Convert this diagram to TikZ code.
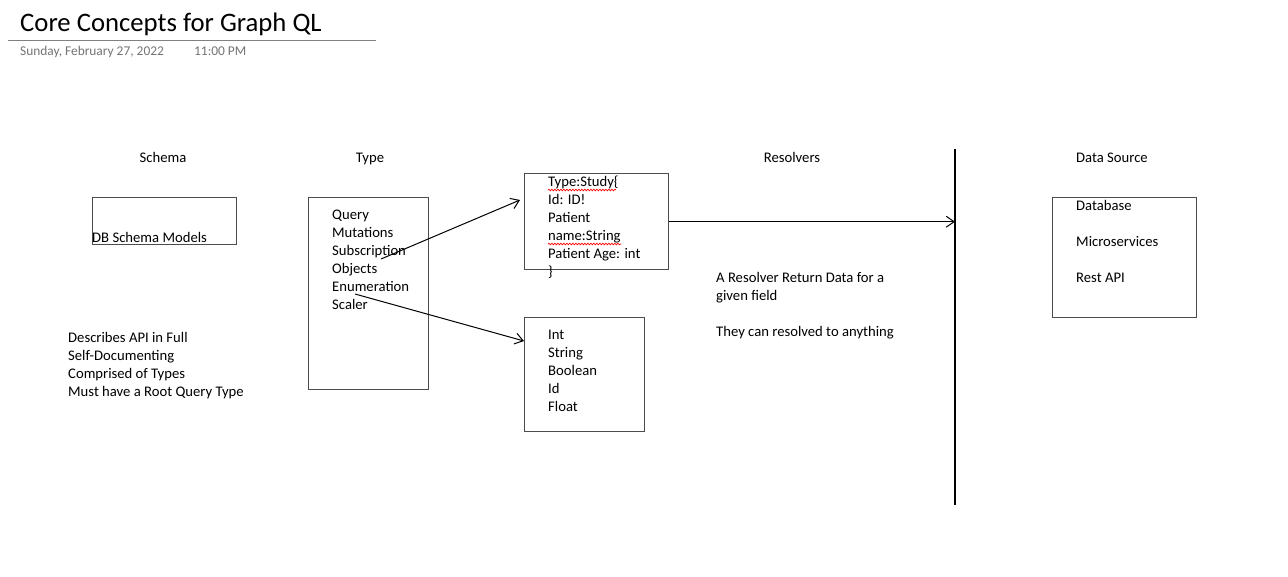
\documentclass[tikz,border=0pt]{standalone}
\usepackage{fontspec}
\setmainfont{Carlito}
\usetikzlibrary{arrows.meta,decorations.pathmorphing}
\tikzset{
  txt/.style={anchor=base west,inner sep=0pt,align=left,font=\fontsize{14.67}{18}\selectfont},
  head/.style={anchor=base,inner sep=0pt,font=\fontsize{14.67}{18}\selectfont},
  box/.style={draw=black!70,line width=1.4pt,anchor=north west,inner sep=0pt},
  link/.style={black,line width=1pt,-{Straight Barb[length=8pt,width=11pt]}},
  spell/.style={red,line width=0.7pt,decorate,decoration={snake,segment length=3pt,amplitude=0.8pt}}
}
\begin{document}
\begin{tikzpicture}[x=1pt,y=-1pt]
  \useasboundingbox (0,0) rectangle (1288,576);
  % page title
  \node [anchor=base west,inner sep=0pt,font=\fontsize{26.7}{30}\selectfont] (title) at (20,31) {Core Concepts for Graph QL};
  \draw [black!50,line width=1pt] (8,40) -- (376,40);
  \node [anchor=base west,inner sep=0pt,text=black!55,font=\fontsize{13.4}{15}\selectfont] (date) at (20,55) {Sunday, February 27, 2022};
  \node [anchor=base west,inner sep=0pt,text=black!55,font=\fontsize{13.4}{15}\selectfont] (time) at (194,55) {11:00 PM};
  % column headings
  \node [head] (hschema) at (163,162) {Schema};
  \node [head] (htype) at (370,162) {Type};
  \node [head] (hres) at (792,162) {Resolvers};
  \node [head] (hsrc) at (1112,162) {Data Source};
  % boxes
  \node [box,minimum width=144pt,minimum height=47pt] (schema) at (92,197) {};
  \node [box,minimum width=120pt,minimum height=192pt] (types) at (308,197) {};
  \node [box,minimum width=144pt,minimum height=96pt] (study) at (524,173) {};
  \node [box,minimum width=120pt,minimum height=114pt] (scalars) at (524,317) {};
  \node [box,minimum width=144pt,minimum height=120pt] (source) at (1052,197) {};
  % box contents (placed at the baseline of the last line)
  \node [txt] (schematxt) at (92,242) {DB Schema Models};
  \node [txt] (schemanotes) at (68,396) {Describes API in Full\\Self-Documenting\\Comprised of Types\\Must have a Root Query Type};
  \node [txt] (typelist) at (332,309) {Query\\Mutations\\Subscription\\Objects\\Enumeration\\Scaler};
  \node [txt] (studytxt) at (548,276) {Type:Study\{\\Id: ID!\\Patient\\name:String\\Patient Age: int\\\}};
  \node [txt] (scalartxt) at (548,411) {Int\\String\\Boolean\\Id\\Float};
  \node [txt] (restxt) at (716,336) {A Resolver Return Data for a\\given field\\[18pt]They can resolved to anything};
  \node [txt] (srctxt) at (1076,282) {Database\\[18pt]Microservices\\[18pt]Rest API};
  % spell check marks
  \draw [spell] (548,190) -- (616,190);
  \draw [spell] (548,244) -- (621,244);
  % divider and links
  \coordinate (divtop) at (955,149);
  \coordinate (divbot) at (955,505);
  \draw [black,line width=1.2pt] (divtop) -- (divbot);
  \coordinate (objstart) at (381,259);
  \coordinate (objend) at (520,200);
  \coordinate (enumstart) at (355,294);
  \coordinate (enumend) at (524,341);
  \draw [link] (objstart) -- (objend);
  \draw [link] (enumstart) -- (enumend);
  \draw [link] (study.east) -- (study.east -| divtop);
\end{tikzpicture}
\end{document}
